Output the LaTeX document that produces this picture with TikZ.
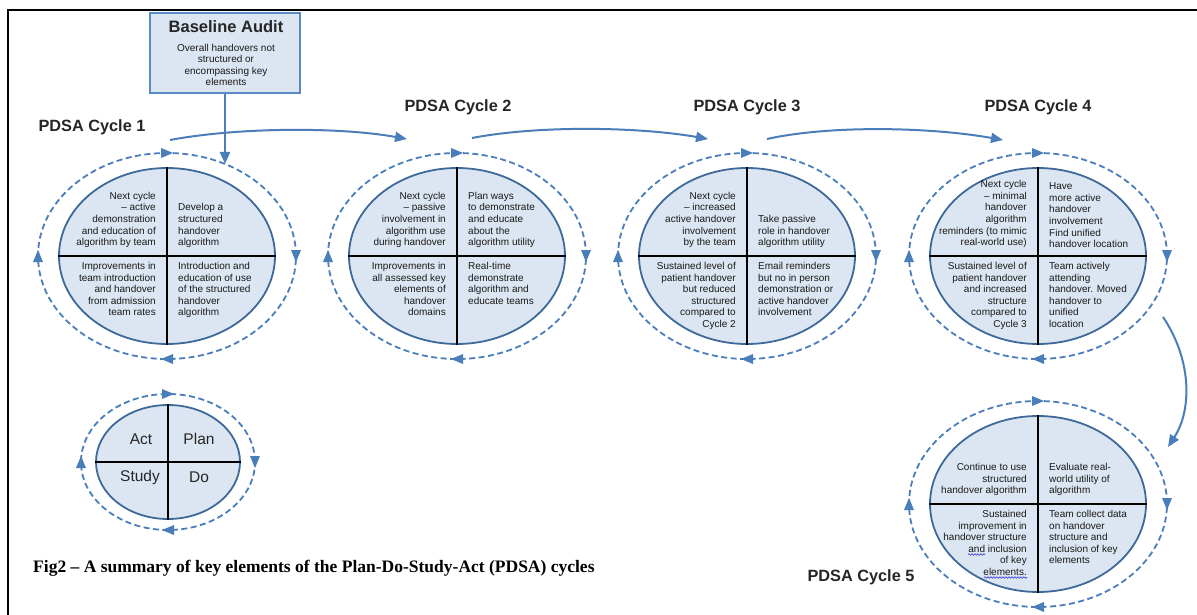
\documentclass[tikz,border=0pt]{standalone}
\usepackage{fontspec}
\setmainfont{Liberation Sans}
\newfontfamily\capfont{Liberation Serif}
\usetikzlibrary{shapes.geometric,arrows.meta,decorations.pathmorphing}
\definecolor{pfill}{HTML}{DCE6F2}
\definecolor{pedge}{HTML}{3D6A99}
\definecolor{pblue}{HTML}{4A7EBB}
\definecolor{boxedge}{HTML}{5B8BC6}
\definecolor{wavy}{HTML}{3030E0}
\tikzset{
  cyc/.style={ellipse, draw=pedge, line width=1.8pt, fill=pfill, minimum width=216pt, minimum height=176pt, inner sep=0pt},
  legcyc/.style={ellipse, draw=pedge, line width=1.8pt, fill=pfill, minimum width=144pt, minimum height=114pt, inner sep=0pt},
  divider/.style={line width=1.8pt, black},
  ring/.style={draw=pblue, line width=1.8pt, dash pattern=on 6pt off 3.5pt},
  tipfill/.style={fill=pblue},
  conn/.style={-{Triangle[length=12pt,width=10pt]}, draw=pblue, line width=2pt},
  qtxt/.style={font=\fontsize{10}{11.6}\selectfont, inner sep=0pt, text=black!90},
  cyclabel/.style={font=\fontsize{16.3}{19}\selectfont\bfseries, text=black!85, inner sep=0pt},
  legtxt/.style={font=\fontsize{15.5}{18}\selectfont, text=black!85, inner sep=0pt},
  spell/.style={draw=wavy, line width=0.6pt, decorate, decoration={snake, amplitude=0.8pt, segment length=3pt}},
}
\newcommand\ringtips[4]{% cx cy rx ry
  \fill[tipfill, shift={(#1,#2)}] (6,-#4) -- (-6,-#4+5) -- (-6,-#4-5) -- cycle;
  \fill[tipfill, shift={(#1,#2)}] (#3,6) -- (#3-5,-6) -- (#3+5,-6) -- cycle;
  \fill[tipfill, shift={(#1,#2)}] (-6,#4) -- (6,#4-5) -- (6,#4+5) -- cycle;
  \fill[tipfill, shift={(#1,#2)}] (-#3,-6) -- (-#3-5,6) -- (-#3+5,6) -- cycle;
}
\newcommand\pdsacyc[7]{% name cx cy TL TR BL BR
  \draw[ring] (#2,#3) ellipse [x radius=129pt, y radius=103pt];
  \ringtips{#2}{#3}{129}{103}
  \node[cyc] (#1) at (#2,#3) {};
  \draw[divider] (#1.north) -- (#1.south);
  \draw[divider] (#1.west) -- (#1.east);
  \node[qtxt, anchor=south east, align=right] (#1tl) at ([xshift=-11pt,yshift=8pt]#1.center) {#4};
  \node[qtxt, anchor=south west, align=left] (#1tr) at ([xshift=11pt,yshift=8pt]#1.center) {#5};
  \node[qtxt, anchor=north east, align=right] (#1bl) at ([xshift=-11pt,yshift=-6pt]#1.center) {#6};
  \node[qtxt, anchor=north west, align=left] (#1br) at ([xshift=11pt,yshift=-6pt]#1.center) {#7};
}
\begin{document}
\begin{tikzpicture}[x=1pt,y=-1pt]
\useasboundingbox (0,0) rectangle (1197,615);
\fill[white] (0,0) rectangle (1197,615);
% frame
\draw[line width=2.5pt] (8,615) -- (8,10) -- (1197,10);

% baseline audit
\node[draw=boxedge, fill=pfill, line width=2.5pt, minimum width=150pt, minimum height=80pt, inner sep=0pt] (audit) at (225,53) {};
\node[font=\fontsize{16.5}{19}\selectfont\bfseries, text=black!85, inner sep=0pt] (audittitle) at (226,27) {Baseline Audit};
\node[qtxt, align=center] (audittext) at (226,65) {Overall handovers not\\structured or\\encompassing key\\elements};

% cycles
\pdsacyc{cone}{167}{256}
  {Next cycle\\– active\\demonstration\\and education of\\algorithm by team}
  {Develop a\\structured\\handover\\algorithm}
  {Improvements in\\team introduction\\and handover\\from admission\\team rates}
  {Introduction and\\education of use\\of the structured\\handover\\algorithm}
\pdsacyc{ctwo}{457}{256}
  {Next cycle\\– passive\\involvement in\\algorithm use\\during handover}
  {Plan ways\\to demonstrate\\and educate\\about the\\algorithm utility}
  {Improvements in\\all assessed key\\elements of\\handover\\domains}
  {Real-time\\demonstrate\\algorithm and\\educate teams}
\pdsacyc{cthree}{747}{256}
  {Next cycle\\– increased\\active handover\\involvement\\by the team}
  {Take passive\\role in handover\\algorithm utility}
  {Sustained level of\\patient handover\\but reduced\\structured\\compared to\\Cycle 2}
  {Email reminders\\but no in person\\demonstration or\\active handover\\involvement}
\pdsacyc{cfour}{1038}{256}
  {Next cycle\\– minimal\\handover\\algorithm\\reminders (to mimic\\real-world use)}
  {Have\\more active\\handover\\involvement\\Find unified\\handover location}
  {Sustained level of\\patient handover\\and increased\\structure\\compared to\\Cycle 3}
  {Team actively\\attending\\handover. Moved\\handover to\\unified\\location}
\pdsacyc{cfive}{1038}{504}
  {Continue to use\\structured\\handover algorithm}
  {Evaluate real-\\world utility of\\algorithm}
  {Sustained\\improvement in\\handover structure\\and inclusion\\of key\\elements.}
  {Team collect data\\on handover\\structure and\\inclusion of key\\elements}
% spell-check underlines
\coordinate (wa) at (968,554.5); \coordinate (wb) at (985,554.5);
\coordinate (wc) at (984,577.5); \coordinate (wd) at (1027,577.5);
\draw[spell] (wa) -- (wb);
\draw[spell] (wc) -- (wd);

% labels
\node[cyclabel] (lone) at (92,127) {PDSA Cycle 1};
\node[cyclabel] (ltwo) at (458,107) {PDSA Cycle 2};
\node[cyclabel] (lthree) at (747,107) {PDSA Cycle 3};
\node[cyclabel] (lfour) at (1038,107) {PDSA Cycle 4};
\node[cyclabel] (lfive) at (861,577) {PDSA Cycle 5};

% connectors
\coordinate (conein) at (225,164);
\draw[conn] (audit.south) -- (conein);
\coordinate (aos) at (170,140); \coordinate (aoe) at (407,139);
\coordinate (ats) at (472,138); \coordinate (ate) at (708,139);
\coordinate (ahs) at (767,139); \coordinate (ahe) at (1003,140);
\coordinate (afs) at (1163,317); \coordinate (afe) at (1168,447);
\draw[conn] (aos) .. controls (240,127) and (340,127) .. (aoe);
\draw[conn] (ats) .. controls (540,125) and (640,127) .. (ate);
\draw[conn] (ahs) .. controls (830,125) and (930,127) .. (ahe);
\draw[conn] (afs) .. controls (1192,360) and (1192,410) .. (afe);

% legend
\draw[ring] (168,462) ellipse [x radius=87pt, y radius=68pt];
\ringtips{168}{462}{87}{68}
\node[legcyc] (leg) at (168,462) {};
\draw[divider] (leg.north) -- (leg.south);
\draw[divider] (leg.west) -- (leg.east);
\node[legtxt] (lact) at (141,439) {Act};
\node[legtxt] (lplan) at (199,439) {Plan};
\node[legtxt] (lstudy) at (140,477) {Study};
\node[legtxt] (ldo) at (199,477) {Do};

% caption
\node[anchor=west, inner sep=0pt, font=\capfont\bfseries\fontsize{17.5}{20}\selectfont] (caption) at (33,568) {Fig2 – A summary of key elements of the Plan-Do-Study-Act (PDSA) cycles};
\end{tikzpicture}
\end{document}
